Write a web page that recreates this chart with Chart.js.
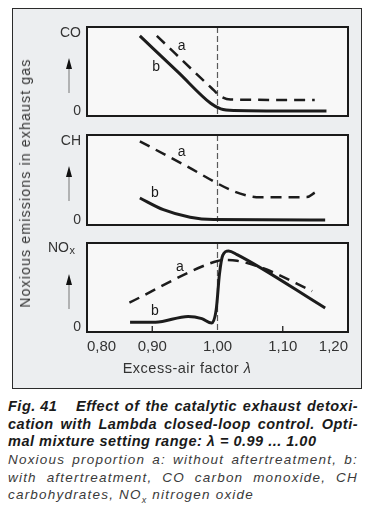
<!DOCTYPE html>
<html>
<head>
<meta charset="utf-8">
<script src="https://cdn.jsdelivr.net/npm/chart.js@4/dist/chart.umd.min.js"></script>
<style>
  body { margin: 0; width: 372px; height: 514px; background: #fff; position: relative; overflow: hidden;
         font-family: "Liberation Sans", Arial, sans-serif; color: #2a2a2a; }
  #frame { position: absolute; left: 12px; top: 8px; width: 350px; height: 381px; box-sizing: border-box;
           border: 1.5px solid #2b2b2b; background: #eceef0; }
  canvas { position: absolute; left: 0; }
  .txt { position: absolute; white-space: nowrap; }
  #ytitle { left: 25px; top: 183px; font-size: 14px; letter-spacing: 1.2px; color: #333;
            transform: translate(-50%, -50%) rotate(-90deg); }
  #xtitle { left: 187px; top: 368px; font-size: 14.5px; letter-spacing: 0.5px; color: #333;
            transform: translate(-50%, -50%); }
  .cap { position: absolute; left: 8px; line-height: 17px; white-space: normal; }
  .bold { font-weight: bold; font-style: italic; font-size: 14.5px; letter-spacing: 0.5px; color: #1a1a1a; }
  .reg { font-style: italic; font-size: 13.5px; letter-spacing: 1.2px; color: #3a3a3a; }
  .just { text-align: justify; text-align-last: justify; width: 350px; }
</style>
</head>
<body>
<div id="frame"></div>
<canvas id="coChart" width="372" height="102" style="top:20px"></canvas>
<canvas id="chChart" width="372" height="104" style="top:128px"></canvas>
<canvas id="noxChart" width="372" height="126" style="top:236px"></canvas>

<div class="txt" id="ytitle">Noxious emissions in exhaust gas</div>
<div class="txt" id="xtitle">Excess-air factor <i>λ</i></div>

<div class="cap bold" style="top:398.4px">Fig. 41</div>
<div class="cap bold just" style="top:398.4px; left:76px; width:282px">Effect of the catalytic exhaust detoxi-</div>
<div class="cap bold just" style="top:416.4px">cation with Lambda closed-loop control. Opti-</div>
<div class="cap bold" style="top:433.4px">mal mixture setting range: λ = 0.99 ... 1.00</div>
<div class="cap reg just" style="top:450.6px">Noxious proportion a: without aftertreatment, b:</div>
<div class="cap reg just" style="top:468.6px">with aftertreatment, CO carbon monoxide, CH</div>
<div class="cap reg" style="top:485.6px">carbohydrates, NO<sub style="font-size:9px">x</sub> nitrogen oxide</div>

<script>
// excess-air factor lambda on x, emission level 0..10 (relative) on y

const tickValues = [0.80, 0.90, 1.00, 1.10, 1.20];

// CO
const coLambdaA = [0.907, 0.99, 1.005, 1.02, 1.149];
const coLevelA  = [9.0, 3.2, 2.2, 1.85, 1.8];
const coLambdaB = [0.881, 0.94, 0.99, 1.005, 1.025, 1.167];
const coLevelB  = [9.0, 4.9, 1.4, 0.8, 0.62, 0.55];

// CH
const chLambdaA = [0.881, 0.95, 1.025, 1.05, 1.065, 1.137, 1.149];
const chLevelA  = [9.3, 6.64, 3.74, 3.2, 3.08, 3.1, 3.6];
const chLambdaB = [0.881, 0.917, 0.958, 0.994, 1.165];
const chLevelB  = [3.0, 1.7, 0.86, 0.6, 0.55];

// NOx
const noxLambdaA = [0.865, 0.99, 1.01, 1.03, 1.07, 1.145];
const noxLevelA  = [3.3, 7.75, 8.1, 8.0, 7.16, 4.6];
const noxLambdaB = [0.866, 0.905, 0.955, 0.976, 0.991, 0.998, 1.003, 1.008, 1.017, 1.03, 1.165];
const noxLevelB  = [1.1, 1.1, 1.75, 1.5, 1.0, 2.5, 6.5, 8.6, 9.1, 8.7, 2.7];


function pts(xs, ys) {
    return xs.map((x, i) => ({ x: x, y: ys[i] }));
}

const FONT = '"Liberation Sans", Arial, sans-serif';

// panel background, lambda=1 line, label, arrow, a/b tags
const panelDeco = {
    id: 'panelDeco',
    beforeDatasetsDraw(chart, args, opts) {
        const ctx = chart.ctx;
        const a = chart.chartArea;
        const xs = chart.scales.x, ys = chart.scales.y;
        ctx.save();

        const x1 = xs.getPixelForValue(1.0);
        ctx.strokeStyle = '#5a5a5a';
        ctx.lineWidth = 1.2;
        ctx.setLineDash([6, 3]);
        ctx.beginPath();
        ctx.moveTo(x1, a.top);
        ctx.lineTo(x1, a.bottom);
        ctx.stroke();
        ctx.setLineDash([]);

        if (opts.innerTicks) {
            ctx.strokeStyle = '#222';
            ctx.lineWidth = 1.3;
            opts.innerTicks.forEach(v => {
                const px = xs.getPixelForValue(v);
                ctx.beginPath();
                ctx.moveTo(px, a.bottom);
                ctx.lineTo(px, a.bottom - 6);
                ctx.stroke();
            });
        }

        // axis label at the top and the zero
        ctx.fillStyle = '#333';
        ctx.textBaseline = 'middle';
        ctx.textAlign = 'right';
        ctx.font = '14px ' + FONT;
        if (opts.sub) {
            ctx.fillText(opts.label, 69, a.top + 5);
            ctx.textAlign = 'left';
            ctx.font = '11px ' + FONT;
            ctx.fillText(opts.sub, 69.5, a.top + 8);
            ctx.textAlign = 'right';
            ctx.font = '14px ' + FONT;
        } else {
            ctx.fillText(opts.label, 81, a.top + 6);
        }
        ctx.fillText('0', 81, a.bottom - 5);

        // arrow
        ctx.strokeStyle = '#8a8a8a';
        ctx.lineWidth = 1.2;
        ctx.beginPath();
        ctx.moveTo(69, a.top + 41);
        ctx.lineTo(69, a.top + 66);
        ctx.stroke();
        ctx.fillStyle = '#111';
        ctx.beginPath();
        ctx.moveTo(69, a.top + 31);
        ctx.lineTo(72, a.top + 42);
        ctx.lineTo(66, a.top + 42);
        ctx.closePath();
        ctx.fill();

        // curve tags
        ctx.fillStyle = '#1a1a1a';
        ctx.textAlign = 'center';
        ctx.font = '14px ' + FONT;
        (opts.tags || []).forEach(t => {
            ctx.fillText(t.text, xs.getPixelForValue(t.x), ys.getPixelForValue(t.y));
        });
        ctx.restore();
    },
    beforeDraw(chart) {
        const a = chart.chartArea;
        chart.ctx.save();
        chart.ctx.fillStyle = '#f8f8f8';
        chart.ctx.fillRect(a.left, a.top, a.right - a.left, a.bottom - a.top);
        chart.ctx.restore();
    },
    afterDraw(chart) {
        const ctx = chart.ctx;
        const a = chart.chartArea;
        ctx.save();
        ctx.strokeStyle = '#1a1a1a';
        ctx.lineWidth = 2;
        ctx.strokeRect(a.left, a.top, a.right - a.left, a.bottom - a.top);
        ctx.restore();
    }
};

function makePanel(id, dataA, dataB, deco, showX, pad) {
    const el = document.getElementById(id).getContext('2d');
    return new Chart(el, {
        type: 'line',
        data: {
            datasets: [
                {
                    label: 'a',
                    data: dataA,
                    borderColor: '#1c1c1c',
                    borderWidth: 2.5,
                    borderDash: [11, 7],
                    pointRadius: 0,
                    cubicInterpolationMode: 'monotone',
                    fill: false
                },
                {
                    label: 'b',
                    data: dataB,
                    borderColor: '#1c1c1c',
                    borderWidth: 3,
                    pointRadius: 0,
                    cubicInterpolationMode: 'monotone',
                    fill: false
                }
            ]
        },
        options: {
            responsive: false,
            animation: false,
            devicePixelRatio: 1,
            layout: { padding: pad },
            plugins: {
                legend: { display: false },
                tooltip: { enabled: false },
                panelDeco: deco
            },
            scales: {
                x: {
                    type: 'linear',
                    min: 0.8,
                    max: 1.2,
                    display: showX,
                    afterBuildTicks: axis => { axis.ticks = tickValues.map(v => ({ value: v })); },
                    grid: { display: false, drawTicks: false },
                    border: { display: false },
                    ticks: {
                        align: 'inner',
                        padding: 6,
                        color: '#333',
                        font: { size: 15, family: FONT },
                        callback: v => v.toFixed(2).replace('.', ',')
                    }
                },
                y: { display: false, min: 0, max: 10 }
            }
        },
        plugins: [panelDeco]
    });
}

makePanel('coChart', pts(coLambdaA, coLevelA), pts(coLambdaB, coLevelB),
    { label: 'CO', tags: [{ text: 'a', x: 0.945, y: 7.8 }, { text: 'b', x: 0.906, y: 5.5 }] },
    false, { left: 87, right: 24, top: 7, bottom: 6 });

makePanel('chChart', pts(chLambdaA, chLevelA), pts(chLambdaB, chLevelB),
    { label: 'CH', tags: [{ text: 'a', x: 0.945, y: 8.1 }, { text: 'b', x: 0.904, y: 3.5 }] },
    false, { left: 87, right: 24, top: 7, bottom: 7 });

makePanel('noxChart', pts(noxLambdaA, noxLevelA), pts(noxLambdaB, noxLevelB),
    { label: 'NO', sub: 'x', innerTicks: [0.9, 1.1],
      tags: [{ text: 'a', x: 0.9425, y: 7.3 }, { text: 'b', x: 0.904, y: 2.35 }] },
    true, { left: 87, right: 24, top: 7, bottom: 0 });
</script>
</body>
</html>
